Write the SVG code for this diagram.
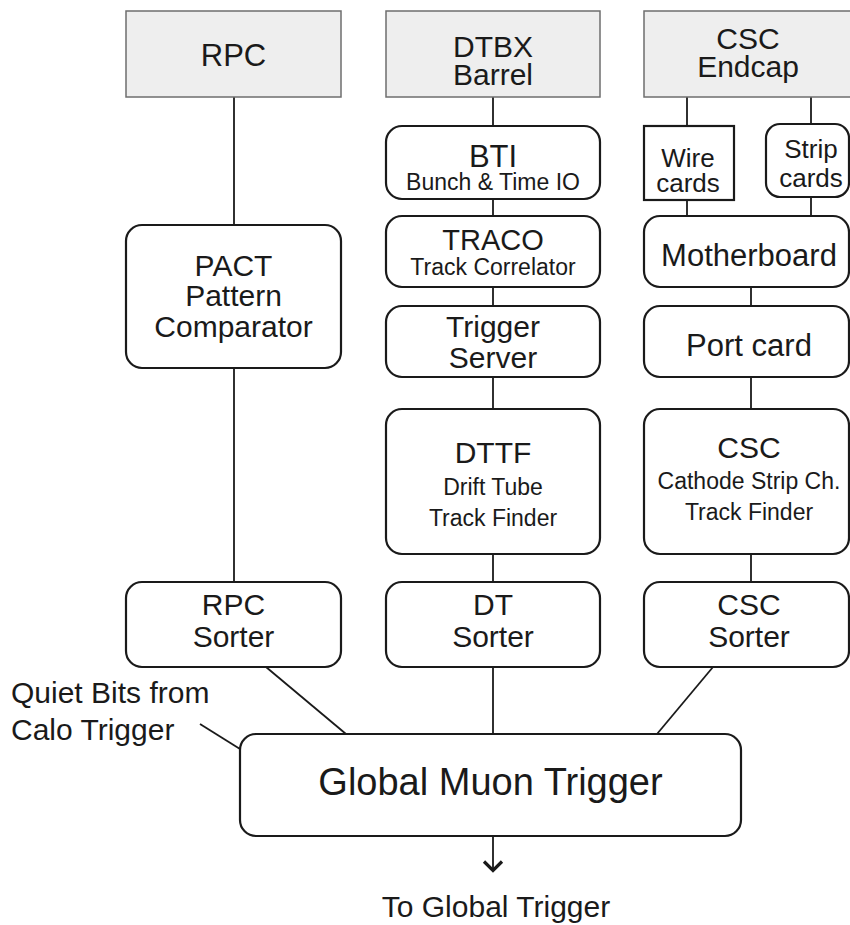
<svg xmlns="http://www.w3.org/2000/svg" width="850" height="925" viewBox="0 0 850 925">
<style>
text{font-family:"Liberation Sans",Arial,Helvetica,sans-serif;fill:#1a1a1a;text-anchor:middle}
.top{fill:#eeeeee;stroke:#6e6e6e;stroke-width:1.5}
.box{fill:#ffffff;stroke:#1a1a1a;stroke-width:2.2}
.ln{stroke:#1a1a1a;stroke-width:1.8;fill:none}
.L{font-size:30px}
.S{font-size:23px}
.W{font-size:26px}
</style>
<rect width="850" height="925" fill="#ffffff"/>
<g id="connectors">
<line class="ln" x1="234" y1="97" x2="234" y2="225"/>
<line class="ln" x1="234" y1="368" x2="234" y2="582"/>
<line class="ln" x1="493" y1="97" x2="493" y2="126"/>
<line class="ln" x1="493" y1="199" x2="493" y2="216"/>
<line class="ln" x1="493" y1="287" x2="493" y2="306"/>
<line class="ln" x1="493" y1="377" x2="493" y2="409"/>
<line class="ln" x1="493" y1="554" x2="493" y2="582"/>
<line class="ln" x1="687" y1="97" x2="687" y2="126"/>
<line class="ln" x1="687" y1="200" x2="687" y2="216"/>
<line class="ln" x1="811" y1="97" x2="811" y2="124"/>
<line class="ln" x1="811" y1="197" x2="811" y2="216"/>
<line class="ln" x1="751" y1="287" x2="751" y2="306"/>
<line class="ln" x1="751" y1="377" x2="751" y2="409"/>
<line class="ln" x1="751" y1="554" x2="751" y2="582"/>
<line class="ln" x1="266" y1="667" x2="346" y2="734"/>
<line class="ln" x1="493" y1="667" x2="493" y2="734"/>
<line class="ln" x1="713" y1="667" x2="657" y2="734"/>
<line class="ln" x1="200" y1="724" x2="240" y2="749"/>
<line class="ln" x1="493" y1="836" x2="493" y2="870"/>
<polyline points="484,861.5 493,870.5 502,861.5" fill="none" stroke="#1a1a1a" stroke-width="3.2"/>
</g>
<g id="rpc"><rect class="top" x="126" y="11" width="215" height="86"/><text class="L" x="233.5" y="66" style="font-size:31px">RPC</text></g>
<g id="dtbx"><rect class="top" x="386" y="11" width="214" height="86"/><text class="L" x="493" y="57">DTBX</text><text class="L" x="493" y="85">Barrel</text></g>
<g id="csc-endcap"><rect class="top" x="644" y="11" width="212" height="86"/><text class="L" x="748" y="49">CSC</text><text class="L" x="748" y="77">Endcap</text></g>
<g id="pact"><rect class="box" x="126" y="225" width="215" height="143" rx="16"/><text class="L" x="233.5" y="276">PACT</text><text class="L" x="233.5" y="306">Pattern</text><text class="L" x="233.5" y="337">Comparator</text></g>
<g id="rpc-sorter"><rect class="box" x="126" y="582" width="215" height="85" rx="16"/><text class="L" x="233.5" y="615">RPC</text><text class="L" x="233.5" y="647">Sorter</text></g>
<g id="bti"><rect class="box" x="386" y="126" width="214" height="73" rx="16"/><text class="L" x="493" y="167" style="font-size:31px">BTI</text><text class="S" x="493" y="190">Bunch &amp; Time IO</text></g>
<g id="traco"><rect class="box" x="386" y="216" width="214" height="71" rx="16"/><text class="L" x="493" y="250" style="font-size:29px">TRACO</text><text class="S" x="493" y="275">Track Correlator</text></g>
<g id="trigger-server"><rect class="box" x="386" y="306" width="214" height="71" rx="16"/><text class="L" x="493" y="337">Trigger</text><text class="L" x="493" y="368">Server</text></g>
<g id="dttf"><rect class="box" x="386" y="409" width="214" height="145" rx="16"/><text class="L" x="493" y="463">DTTF</text><text class="S" x="493" y="495">Drift Tube</text><text class="S" x="493" y="526">Track Finder</text></g>
<g id="dt-sorter"><rect class="box" x="386" y="582" width="214" height="85" rx="16"/><text class="L" x="493" y="615">DT</text><text class="L" x="493" y="647">Sorter</text></g>
<g id="wire-cards"><rect class="box" x="644" y="126" width="90" height="74"/><text class="W" x="688" y="167">Wire</text><text class="W" x="688" y="192">cards</text></g>
<g id="strip-cards"><rect class="box" x="766" y="124" width="83" height="73" rx="14"/><text class="W" x="811" y="158">Strip</text><text class="W" x="811" y="187">cards</text></g>
<g id="motherboard"><rect class="box" x="644" y="216" width="205" height="71" rx="16"/><text class="L" x="749" y="266" style="font-size:31px">Motherboard</text></g>
<g id="port-card"><rect class="box" x="644" y="306" width="205" height="71" rx="16"/><text class="L" x="749" y="356" style="font-size:31px">Port card</text></g>
<g id="csctf"><rect class="box" x="644" y="409" width="205" height="145" rx="16"/><text class="L" x="749" y="458">CSC</text><text class="S" x="749" y="489">Cathode Strip Ch.</text><text class="S" x="749" y="520">Track Finder</text></g>
<g id="csc-sorter"><rect class="box" x="644" y="582" width="205" height="85" rx="16"/><text class="L" x="749" y="615">CSC</text><text class="L" x="749" y="647">Sorter</text></g>
<g id="gmt"><rect class="box" x="240" y="734" width="501" height="102" rx="16"/><text x="490.5" y="795" style="font-size:38px">Global Muon Trigger</text></g>
<g id="quiet-bits"><text class="L" x="11" y="703" style="text-anchor:start">Quiet Bits from</text><text class="L" x="11" y="740" style="text-anchor:start">Calo Trigger</text></g>
<g id="to-global"><text class="L" x="496" y="917">To Global Trigger</text></g>
</svg>
